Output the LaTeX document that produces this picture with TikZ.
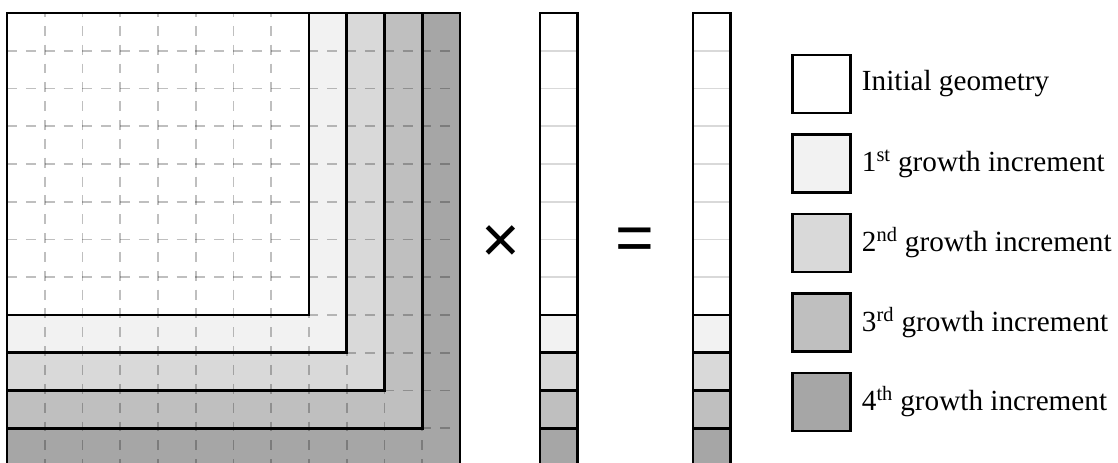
\documentclass[tikz,border=0pt]{standalone}
\usepackage{fontspec}
\setmainfont{Liberation Serif}
\newfontfamily\opfont{Liberation Sans}
\usetikzlibrary{positioning}
\definecolor{incone}{gray}{0.95}
\definecolor{inctwo}{gray}{0.85}
\definecolor{incthree}{gray}{0.75}
\definecolor{incfour}{gray}{0.65}

\begin{document}
\begin{tikzpicture}[
    border/.style={draw=black, line width=2pt},
    gridline/.style={black, opacity=0.25, line width=1.4pt, dash pattern=on 7.5pt off 6.7pt},
    vecline/.style={black!15, line width=1.2pt},
    operator/.style={font=\opfont\fontsize{50}{50}\selectfont, inner sep=0pt},
    legbox/.style={border, minimum size=1.536cm, inner sep=0pt},
    leglabel/.style={font=\fontsize{22}{26}\selectfont, right=0.15cm of #1}
]
    \useasboundingbox (-0.185,0.08) rectangle (29.43,12.344);

    % Matrix
    \foreach \n/\c in {12/incfour, 11/incthree, 10/inctwo, 9/incone, 8/white}
        \fill[\c] (0,{12-\n}) rectangle (\n,12);
    \foreach \i in {1,...,11} {
        \draw[gridline] (0,\i) -- (12,\i);
        \draw[gridline, dash phase=4.5pt] (\i,12) -- (\i,0);
    }
    \foreach \n in {12,11,10,9,8}
        \draw[border] (0,{12-\n}) rectangle (\n,12);

    % Vectors
    \foreach \xs in {14.12, 18.17} {
        \begin{scope}[xshift=\xs cm]
            \fill[white] (0,4) rectangle (1,12);
            \fill[incone] (0,3) rectangle (1,4);
            \fill[inctwo] (0,2) rectangle (1,3);
            \fill[incthree] (0,1) rectangle (1,2);
            \fill[incfour] (0,0) rectangle (1,1);
            \foreach \y in {5,...,11}
                \draw[vecline] (0,\y) -- (1,\y);
            \foreach \y in {1,...,4}
                \draw[border] (0,\y) -- (1,\y);
            \draw[border] (0,0) rectangle (1,12);
        \end{scope}
    }

    % Operators
    \node[operator] (times) at (13.09,5.88) {×};
    \node[operator] (equals) at (16.64,5.87) {=};

    % Legend
    \foreach \i/\c/\t in {0/white/Initial geometry,
                          1/incone/1\textsuperscript{st} growth increment,
                          2/inctwo/2\textsuperscript{nd} growth increment,
                          3/incthree/3\textsuperscript{rd} growth increment,
                          4/incfour/4\textsuperscript{th} growth increment} {
        \node[legbox, fill=\c] (box\i) at (21.57,{10.12-2.106*\i}) {};
        \node[leglabel=box\i] (lab\i) {\t};
    }
\end{tikzpicture}
\end{document}
